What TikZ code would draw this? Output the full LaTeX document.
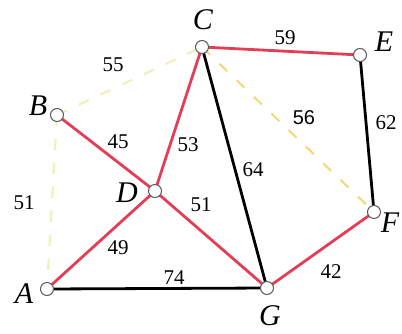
\documentclass[tikz,border=0pt]{standalone}
\usepackage{fontspec}
\setmainfont{Liberation Serif}
\newfontfamily\numsans{Liberation Sans}
\definecolor{edgered}{RGB}{228,62,86}
\definecolor{paleyel}{RGB}{240,240,185}
\definecolor{oryel}{RGB}{245,215,120}
\definecolor{vgray}{RGB}{90,90,90}
\begin{document}
\begin{tikzpicture}[x=1pt,y=-1pt,
  vtx/.style={circle,draw=vgray,line width=1pt,fill=white,minimum size=13pt,inner sep=0pt},
  vlab/.style={font=\fontsize{30}{30}\selectfont\itshape,inner sep=0pt},
  wlab/.style={font=\fontsize{21}{21}\selectfont,inner sep=0pt},
  redge/.style={edgered,line width=2.8pt},
  bedge/.style={black,line width=2.8pt},
  yedge/.style={paleyel,line width=2.2pt,dash pattern=on 11pt off 13pt},
  oedge/.style={oryel,line width=2pt,dash pattern=on 11pt off 13pt}]
\useasboundingbox (0,0) rectangle (402,333);
\coordinate (pC) at (202,47);
\coordinate (pE) at (360,55);
\coordinate (pB) at (57,115);
\coordinate (pD) at (155,191);
\coordinate (pA) at (47,289);
\coordinate (pG) at (267,288);
\coordinate (pF) at (374,212);
% edges
\draw[yedge] (pB) -- (pC);
\draw[yedge] (pB) -- (pA);
\draw[oedge] (pC) -- (pF);
\draw[redge] (pC) -- (pE);
\draw[redge] (pC) -- (pD);
\draw[redge] (pB) -- (pD);
\draw[redge] (pD) -- (pA);
\draw[redge] (pD) -- (pG);
\draw[redge] (pG) -- (pF);
\draw[bedge] (pC) -- (pG);
\draw[bedge] (pE) -- (pF);
\draw[bedge] (pA) -- (pG);
% vertices
\node[vtx] (C) at (pC) {};
\node[vtx] (E) at (pE) {};
\node[vtx] (B) at (pB) {};
\node[vtx] (D) at (pD) {};
\node[vtx] (A) at (pA) {};
\node[vtx] (G) at (pG) {};
\node[vtx] (F) at (pF) {};
% vertex labels
\node[vlab] (lC) at (203,20) {C};
\node[vlab] (lE) at (384,42) {E};
\node[vlab] (lB) at (38,106) {B};
\node[vlab] (lD) at (127,193) {D};
\node[vlab] (lA) at (24,294) {A};
\node[vlab] (lG) at (270,316) {G};
\node[vlab] (lF) at (390,223) {F};
% weights
\node[wlab] (w55) at (113,65) {55};
\node[wlab] (w45) at (118,142) {45};
\node[wlab] (w53) at (188,145) {53};
\node[wlab] (w59) at (285,38) {59};
\node[font=\fontsize{20}{20}\selectfont\numsans,inner sep=0pt] (w56) at (304,118) {56};
\node[wlab] (w62) at (386,123) {62};
\node[wlab] (w64) at (253,170) {64};
\node[wlab] (w51a) at (201,205) {51};
\node[wlab] (w51b) at (24,203) {51};
\node[wlab] (w49) at (118,248) {49};
\node[wlab] (w74) at (174,278) {74};
\node[wlab] (w42) at (331,272) {42};
\end{tikzpicture}
\end{document}
